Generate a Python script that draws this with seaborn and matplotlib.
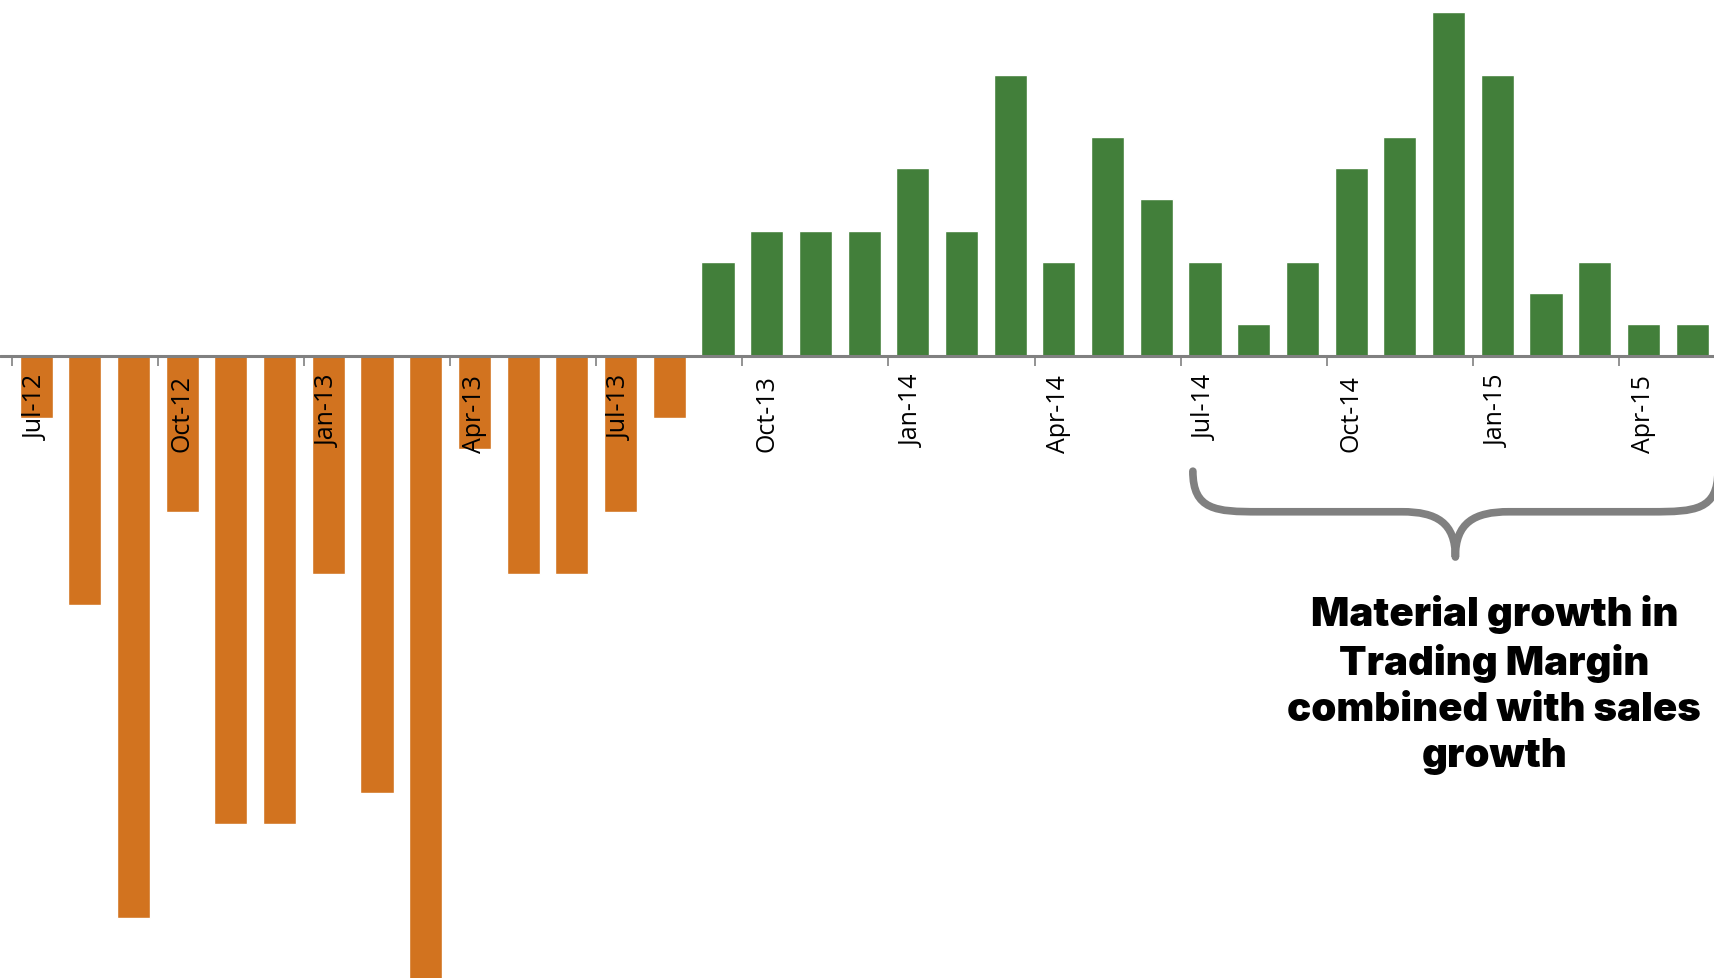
import matplotlib
matplotlib.use("Agg")
import matplotlib.pyplot as plt
from matplotlib.path import Path
from matplotlib.patches import PathPatch
import seaborn as sns
import pandas as pd
import numpy as np

# Monthly change, Jul-12 .. May-15
months = ["Jul-12", "Aug-12", "Sep-12", "Oct-12", "Nov-12", "Dec-12",
          "Jan-13", "Feb-13", "Mar-13", "Apr-13", "May-13", "Jun-13",
          "Jul-13", "Aug-13", "Sep-13", "Oct-13", "Nov-13", "Dec-13",
          "Jan-14", "Feb-14", "Mar-14", "Apr-14", "May-14", "Jun-14",
          "Jul-14", "Aug-14", "Sep-14", "Oct-14", "Nov-14", "Dec-14",
          "Jan-15", "Feb-15", "Mar-15", "Apr-15", "May-15"]
values = [-2, -8, -18, -5, -15, -15,
          -7, -14, -20, -3, -7, -7,
          -5, -2, 3, 4, 4, 4,
          6, 4, 9, 3, 7, 5,
          3, 1, 3, 6, 7, 11,
          9, 2, 3, 1, 1]
annotation = "Material growth in\nTrading Margin\ncombined with sales\ngrowth"

ORANGE = "#D2731F"
GREEN = "#427F3A"
GREY = "#808080"

df = pd.DataFrame({"month": months, "value": values})
df["sign"] = np.where(df["value"] < 0, "neg", "pos")

sns.set_style("white")
plt.rcParams["font.family"] = ["Open Sans", "DejaVu Sans"]

fig = plt.figure(figsize=(17.15, 9.79), dpi=100)
ax = fig.add_axes([0, 0, 1, 1])

sns.barplot(data=df, x="month", y="value", hue="sign",
            palette={"neg": ORANGE, "pos": GREEN}, dodge=False,
            width=0.68, legend=False, ax=ax, saturation=1)

ax.set_xlim(-0.741, 34.47)
ax.set_ylim(-19.93, 11.42)

for s in ax.spines.values():
    s.set_visible(False)
# x axis sits on the zero line
ax.spines["bottom"].set_position(("data", 0))
ax.xaxis.set_ticks_position("bottom")
ax.set_axisbelow(False)
ax.axhline(0, color=GREY, lw=2.2, zorder=3)
ax.set_yticks([])
ax.set_xlabel("")
ax.set_ylabel("")

# quarter labels centred on bars, tick marks on category boundaries
major = list(range(0, len(months), 3))
ax.set_xticks(major, [months[i] for i in major])
ax.set_xticks([i - 0.5 for i in major], minor=True)
ax.tick_params(axis="x", which="major", length=0, pad=13)
ax.tick_params(axis="x", which="minor", length=7, width=1.2, color=GREY,
               direction="out")
for lbl in ax.get_xticklabels():
    lbl.set_rotation(90)
    lbl.set_fontsize(18)
    lbl.set_color("black")
    lbl.set_verticalalignment("top")
    lbl.set_horizontalalignment("center")

# curly brace under the last months
x0, xc = 23.75, 29.14
x1 = 2 * xc - x0
ytop, ymid, ytip = -3.7, -5.0, -6.45
dx1, dx2 = 1.35, 1.1
verts = [
    (x0, ytop),
    (x0, ymid + 0.05), (x0 + 0.35 * dx1, ymid), (x0 + dx1, ymid),
    (xc - dx2, ymid),
    (xc - 0.35 * dx2, ymid), (xc, ymid - 0.35), (xc, ytip),
    (xc, ymid - 0.35), (xc + 0.35 * dx2, ymid), (xc + dx2, ymid),
    (x1 - dx1, ymid),
    (x1 - 0.35 * dx1, ymid), (x1, ymid + 0.05), (x1, ytop),
]
codes = [Path.MOVETO,
         Path.CURVE4, Path.CURVE4, Path.CURVE4,
         Path.LINETO,
         Path.CURVE4, Path.CURVE4, Path.CURVE4,
         Path.CURVE4, Path.CURVE4, Path.CURVE4,
         Path.LINETO,
         Path.CURVE4, Path.CURVE4, Path.CURVE4]
brace = PathPatch(Path(verts, codes), facecolor="none", edgecolor=GREY,
                  lw=5.5, capstyle="round", joinstyle="round", clip_on=False)
ax.add_patch(brace)

ax.text(29.94, -7.63, annotation, ha="center", va="top",
        fontsize=28.9, fontweight="black", family=["Inter", "DejaVu Sans"],
        linespacing=1.32, color="black")

fig.savefig("out.png", dpi=100)
